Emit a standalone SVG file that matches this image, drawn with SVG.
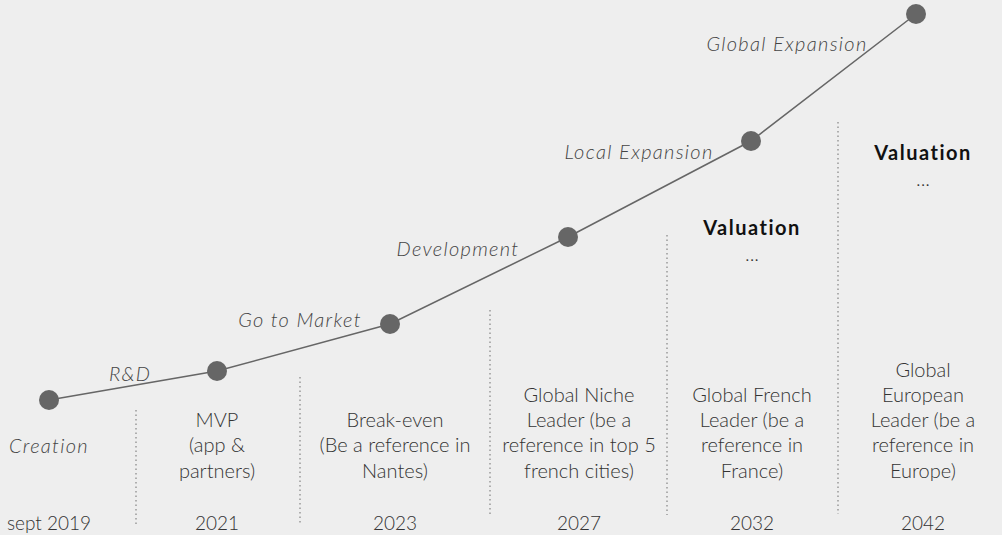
<svg xmlns="http://www.w3.org/2000/svg" width="1002" height="535" viewBox="0 0 1002 535">
<style>
text{font-family:Lato,"Open Sans","Liberation Sans",sans-serif;font-size:20px;fill:#333;text-anchor:middle;font-weight:300}
.it{font-style:italic;fill:#444;letter-spacing:1.3px}
.b{font-weight:bold;fill:#111;letter-spacing:1.5px}
.yr{font-size:19px}
.dot{fill:#666}
.sep{stroke:#999;stroke-width:1.5;stroke-dasharray:1.5 3;fill:none}
</style>
<rect width="1002" height="535" fill="#eeeeee"/>
<g id="connectors">
<polyline points="49,400 217,371 390,324 568,237 751,141 916,14" fill="none" stroke="#666" stroke-width="1.5"/>
</g>
<g id="separators">
<line class="sep" x1="136" y1="410" x2="136" y2="525"/>
<line class="sep" x1="300" y1="377" x2="300" y2="523"/>
<line class="sep" x1="490" y1="310" x2="490" y2="516"/>
<line class="sep" x1="667" y1="235" x2="667" y2="515"/>
<line class="sep" x1="838" y1="122" x2="838" y2="514"/>
</g>
<g id="n-creation">
<circle class="dot" cx="49" cy="400" r="10"/>
<text class="it" x="49" y="453">Creation</text>
<text class="yr" x="49" y="530">sept 2019</text>
</g>
<g id="n-mvp">
<circle class="dot" cx="217" cy="371" r="10"/>
<text class="it" x="130" y="381">R&amp;D</text>
<text x="217" y="427">MVP</text>
<text x="217" y="452">(app &amp;</text>
<text x="217" y="478">partners)</text>
<text class="yr" x="217" y="530">2021</text>
</g>
<g id="n-breakeven">
<circle class="dot" cx="390" cy="324" r="10"/>
<text class="it" x="300" y="327">Go to Market</text>
<text x="395" y="427">Break-even</text>
<text x="395" y="452">(Be a reference in</text>
<text x="395" y="478">Nantes)</text>
<text class="yr" x="395" y="530">2023</text>
</g>
<g id="n-niche">
<circle class="dot" cx="568" cy="237" r="10"/>
<text class="it" x="458" y="256">Development</text>
<text x="579" y="402">Global Niche</text>
<text x="579" y="427">Leader (be a</text>
<text x="579" y="452">reference in top 5</text>
<text x="579" y="478">french cities)</text>
<text class="yr" x="579" y="530">2027</text>
</g>
<g id="n-french">
<circle class="dot" cx="751" cy="141" r="10"/>
<text class="it" x="639" y="159">Local Expansion</text>
<text class="b" x="752" y="235">Valuation</text>
<text x="752" y="261">...</text>
<text x="752" y="402">Global French</text>
<text x="752" y="427">Leader (be a</text>
<text x="752" y="452">reference in</text>
<text x="752" y="478">France)</text>
<text class="yr" x="752" y="530">2032</text>
</g>
<g id="n-european">
<circle class="dot" cx="916" cy="14" r="10"/>
<text class="it" x="787" y="51">Global Expansion</text>
<text class="b" x="923" y="160">Valuation</text>
<text x="923" y="186">...</text>
<text x="923" y="377">Global</text>
<text x="923" y="402">European</text>
<text x="923" y="427">Leader (be a</text>
<text x="923" y="452">reference in</text>
<text x="923" y="478">Europe)</text>
<text class="yr" x="923" y="530">2042</text>
</g>
</svg>
